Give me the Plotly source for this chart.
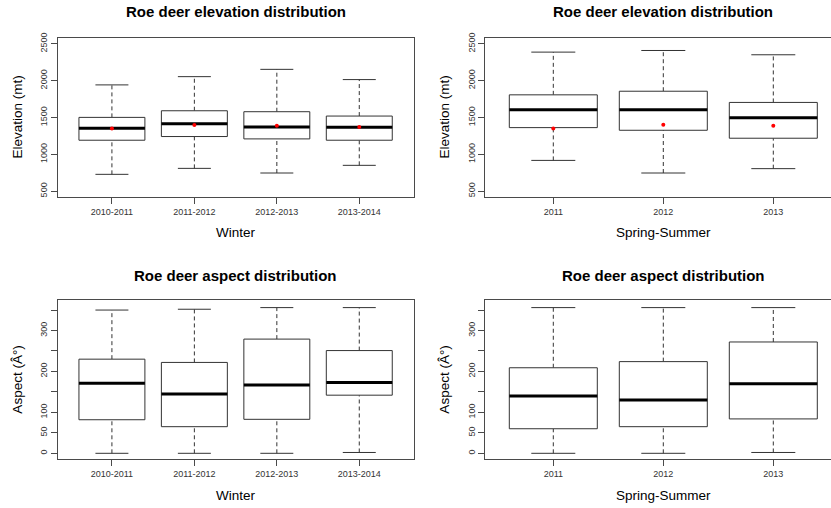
import plotly.graph_objects as go

# ---------------- data ----------------
winter_years = ["2010-2011", "2011-2012", "2012-2013", "2013-2014"]
summer_years = ["2011", "2012", "2013"]

elev_w_low = [729, 810, 747, 851]
elev_w_q1 = [1192, 1242, 1210, 1192]
elev_w_med = [1354, 1417, 1372, 1367]
elev_w_q3 = [1502, 1592, 1579, 1520]
elev_w_high = [1943, 2055, 2154, 2015]
elev_w_mean = [1350, 1399, 1390, 1372]

elev_s_low = [918, 747, 806]
elev_s_q1 = [1363, 1327, 1219]
elev_s_med = [1606, 1606, 1498]
elev_s_q3 = [1808, 1857, 1705]
elev_s_high = [2388, 2410, 2352]
elev_s_mean = [1350, 1403, 1390]

asp_w_low = [0, 0, 0, 2]
asp_w_q1 = [82, 65, 83, 142]
asp_w_med = [171, 145, 167, 173]
asp_w_q3 = [230, 222, 279, 251]
asp_w_high = [350, 352, 356, 356]

asp_s_low = [0, 0, 2]
asp_s_q1 = [60, 65, 84]
asp_s_med = [140, 130, 170]
asp_s_q3 = [209, 224, 272]
asp_s_high = [356, 356, 356]

elev_ticks = [500, 1000, 1500, 2000, 2500]
asp_ticks = [0, 50, 100, 150, 200, 250, 300, 350]
asp_ticklabels = ["0", "50", "100", "", "200", "", "300", ""]

# ---------------- styling ----------------
W, H = 831, 508
FONT = "Liberation Sans, Arial, Helvetica, sans-serif"
BOXC = "#333333"
FRAME = "#4a4a4a"
BOXW = 0.4
CAPW = 0.2

fig = go.Figure()


def add_boxes(xa, ya, low, q1, med, q3, high, mean=None):
    bx, by, mx, my, wx, wy, cx, cy = [], [], [], [], [], [], [], []
    for i in range(len(med)):
        p = i + 1
        bx += [p - BOXW, p + BOXW, p + BOXW, p - BOXW, p - BOXW, None]
        by += [q1[i], q1[i], q3[i], q3[i], q1[i], None]
        mx += [p - BOXW, p + BOXW, None]
        my += [med[i], med[i], None]
        wx += [p, p, None, p, p, None]
        wy += [q3[i], high[i], None, low[i], q1[i], None]
        cx += [p - CAPW, p + CAPW, None, p - CAPW, p + CAPW, None]
        cy += [high[i], high[i], None, low[i], low[i], None]
    common = dict(xaxis=xa, yaxis=ya, mode="lines", showlegend=False, hoverinfo="skip")
    fig.add_trace(go.Scatter(x=wx, y=wy, line=dict(color=BOXC, width=1, dash="4px,3px"), **common))
    fig.add_trace(go.Scatter(x=cx, y=cy, line=dict(color=BOXC, width=1), **common))
    fig.add_trace(go.Scatter(x=bx, y=by, fill="toself", fillcolor="white",
                             line=dict(color=BOXC, width=1), **common))
    fig.add_trace(go.Scatter(x=mx, y=my, line=dict(color="black", width=3), **common))
    if mean is not None:
        fig.add_trace(go.Scatter(x=list(range(1, len(mean) + 1)), y=mean, xaxis=xa, yaxis=ya,
                                 mode="markers", marker=dict(color="red", size=4),
                                 showlegend=False, hoverinfo="skip"))


add_boxes("x", "y", elev_w_low, elev_w_q1, elev_w_med, elev_w_q3, elev_w_high, elev_w_mean)
add_boxes("x2", "y2", elev_s_low, elev_s_q1, elev_s_med, elev_s_q3, elev_s_high, elev_s_mean)
add_boxes("x3", "y3", asp_w_low, asp_w_q1, asp_w_med, asp_w_q3, asp_w_high)
add_boxes("x4", "y4", asp_s_low, asp_s_q1, asp_s_med, asp_s_q3, asp_s_high)

# pixel geometry of the panels
L_left, L_right = 57.5, 413.7
R_left = 485.1
T_top, T_bot = 33.3, 194.0
B_top, B_bot = 298.0, 458.7


def xdom(a, b):
    return [a / W, min(b / W, 1.0)]


def ydom(top, bot):
    return [1 - bot / H, 1 - top / H]


tickfont = dict(family=FONT, size=9, color="#333333")


def xaxis(dom, cats, rng, anchor):
    return dict(domain=dom, range=rng, tickmode="array",
                tickvals=list(range(1, len(cats) + 1)), ticktext=cats,
                ticks="outside", ticklen=6, tickcolor=FRAME, tickwidth=1,
                showline=True, linecolor=FRAME, linewidth=1, mirror=True,
                showgrid=False, zeroline=False, tickfont=tickfont, anchor=anchor,
                fixedrange=True)


def yaxis(dom, rng, vals, texts, anchor, mirror):
    return dict(domain=dom, range=rng, tickmode="array", tickvals=vals, ticktext=texts,
                ticks="outside", ticklen=6, tickcolor=FRAME, tickwidth=1, tickangle=-90,
                showline=True, linecolor=FRAME, linewidth=1, mirror=mirror,
                showgrid=False, zeroline=False, tickfont=tickfont, anchor=anchor,
                fixedrange=True)


right_max = 0.38 + (W - R_left) / 110.0

fig.update_layout(
    width=W, height=H,
    margin=dict(l=0, r=0, t=0, b=0),
    paper_bgcolor="white", plot_bgcolor="white",
    font=dict(family=FONT, color="black"),
    xaxis=xaxis(xdom(L_left, L_right), winter_years, [0.34, 4.66], "y"),
    yaxis=yaxis(ydom(T_top, T_bot), [420, 2580], elev_ticks, [str(v) for v in elev_ticks], "x", True),
    xaxis2=xaxis(xdom(R_left, W), summer_years, [0.38, right_max], "y2"),
    yaxis2=yaxis(ydom(T_top, T_bot), [420, 2580], elev_ticks, [str(v) for v in elev_ticks], "x2", False),
    xaxis3=xaxis(xdom(L_left, L_right), winter_years, [0.34, 4.66], "y3"),
    yaxis3=yaxis(ydom(B_top, B_bot), [-14.4, 374.4], asp_ticks, asp_ticklabels, "x3", True),
    xaxis4=xaxis(xdom(R_left, W), summer_years, [0.38, right_max], "y4"),
    yaxis4=yaxis(ydom(B_top, B_bot), [-14.4, 374.4], asp_ticks, asp_ticklabels, "x4", False),
)

annotations = []


def ann(text, px, py, size, bold=False, angle=0):
    annotations.append(dict(
        text=f"<b>{text}</b>" if bold else text,
        x=px / W, y=1 - py / H, xref="paper", yref="paper",
        xanchor="center", yanchor="middle", showarrow=False, textangle=angle,
        font=dict(family=FONT, size=size, color="black")))


Lc = (L_left + L_right) / 2
Rc = (R_left + 841.5) / 2
ann("Roe deer elevation distribution", Lc, 7, 15, bold=True)
ann("Roe deer elevation distribution", Rc, 7, 15, bold=True)
ann("Roe deer aspect distribution", Lc, 273, 15, bold=True)
ann("Roe deer aspect distribution", Rc, 273, 15, bold=True)
ann("Winter", Lc, 229.5, 13.5)
ann("Spring-Summer", Rc, 229.5, 13.5)
ann("Winter", Lc, 495, 13.5)
ann("Spring-Summer", Rc, 495, 13.5)
ann("Elevation (mt)", 18, (T_top + T_bot) / 2, 13.5, angle=-90)
ann("Elevation (mt)", 445, (T_top + T_bot) / 2, 13.5, angle=-90)
ann("Aspect (Â°)", 18, (B_top + B_bot) / 2, 13.5, angle=-90)
ann("Aspect (Â°)", 445, (B_top + B_bot) / 2, 13.5, angle=-90)
fig.update_layout(annotations=annotations)

fig.write_html("out.html", config={"displayModeBar": False, "staticPlot": True},
               post_script="document.body.style.margin='0px';document.body.style.overflow='hidden';")
